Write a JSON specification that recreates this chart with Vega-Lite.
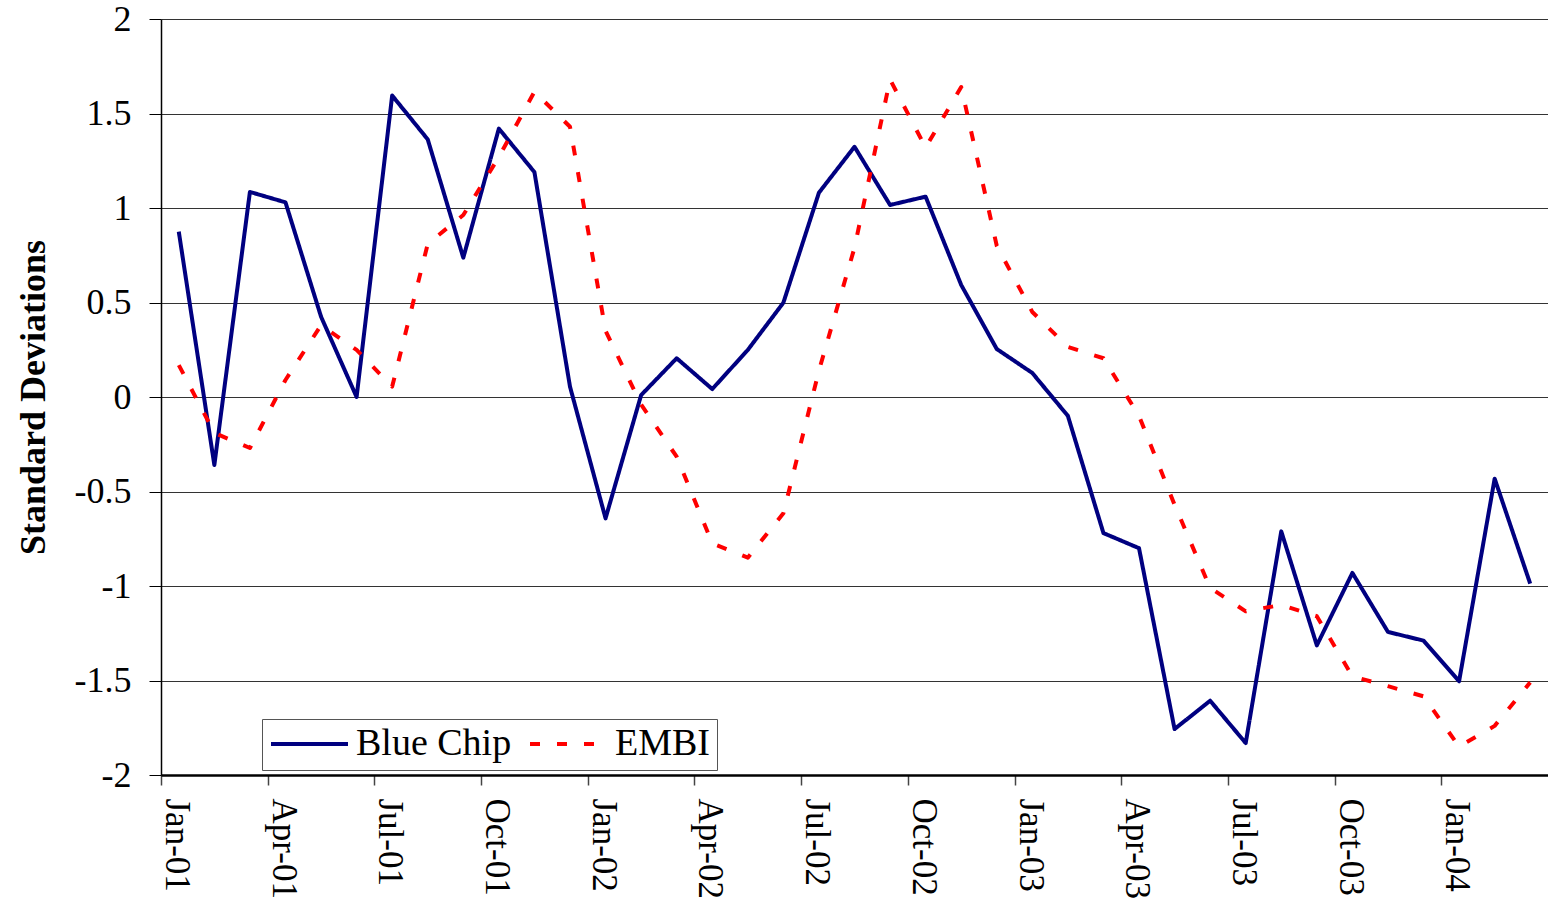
{
  "$schema": "https://vega.github.io/schema/vega-lite/v6.json",
  "width": 1387,
  "height": 756,
  "autosize": {"type": "none"},
  "padding": {"left": 161, "top": 19, "right": 0, "bottom": 135},
  "background": "white",
  "config": {"view": {"stroke": null}, "font": "Liberation Serif"},
  "data": {"values": [
    {"month": "Jan-01", "series": "Blue Chip", "value": 0.875},
    {"month": "Feb-01", "series": "Blue Chip", "value": -0.36},
    {"month": "Mar-01", "series": "Blue Chip", "value": 1.085},
    {"month": "Apr-01", "series": "Blue Chip", "value": 1.03},
    {"month": "May-01", "series": "Blue Chip", "value": 0.425},
    {"month": "Jun-01", "series": "Blue Chip", "value": 0.0},
    {"month": "Jul-01", "series": "Blue Chip", "value": 1.595},
    {"month": "Aug-01", "series": "Blue Chip", "value": 1.363},
    {"month": "Sep-01", "series": "Blue Chip", "value": 0.737},
    {"month": "Oct-01", "series": "Blue Chip", "value": 1.42},
    {"month": "Nov-01", "series": "Blue Chip", "value": 1.19},
    {"month": "Dec-01", "series": "Blue Chip", "value": 0.055},
    {"month": "Jan-02", "series": "Blue Chip", "value": -0.642},
    {"month": "Feb-02", "series": "Blue Chip", "value": 0.01},
    {"month": "Mar-02", "series": "Blue Chip", "value": 0.205},
    {"month": "Apr-02", "series": "Blue Chip", "value": 0.042},
    {"month": "May-02", "series": "Blue Chip", "value": 0.249},
    {"month": "Jun-02", "series": "Blue Chip", "value": 0.499},
    {"month": "Jul-02", "series": "Blue Chip", "value": 1.081},
    {"month": "Aug-02", "series": "Blue Chip", "value": 1.324},
    {"month": "Sep-02", "series": "Blue Chip", "value": 1.016},
    {"month": "Oct-02", "series": "Blue Chip", "value": 1.06},
    {"month": "Nov-02", "series": "Blue Chip", "value": 0.593},
    {"month": "Dec-02", "series": "Blue Chip", "value": 0.254},
    {"month": "Jan-03", "series": "Blue Chip", "value": 0.127},
    {"month": "Feb-03", "series": "Blue Chip", "value": -0.1},
    {"month": "Mar-03", "series": "Blue Chip", "value": -0.72},
    {"month": "Apr-03", "series": "Blue Chip", "value": -0.8},
    {"month": "May-03", "series": "Blue Chip", "value": -1.757},
    {"month": "Jun-03", "series": "Blue Chip", "value": -1.607},
    {"month": "Jul-03", "series": "Blue Chip", "value": -1.831},
    {"month": "Aug-03", "series": "Blue Chip", "value": -0.711},
    {"month": "Sep-03", "series": "Blue Chip", "value": -1.314},
    {"month": "Oct-03", "series": "Blue Chip", "value": -0.931},
    {"month": "Nov-03", "series": "Blue Chip", "value": -1.243},
    {"month": "Dec-03", "series": "Blue Chip", "value": -1.289},
    {"month": "Jan-04", "series": "Blue Chip", "value": -1.504},
    {"month": "Feb-04", "series": "Blue Chip", "value": -0.432},
    {"month": "Mar-04", "series": "Blue Chip", "value": -0.988},
    {"month": "Jan-01", "series": "EMBI", "value": 0.169},
    {"month": "Feb-01", "series": "EMBI", "value": -0.19},
    {"month": "Mar-01", "series": "EMBI", "value": -0.27},
    {"month": "Apr-01", "series": "EMBI", "value": 0.09},
    {"month": "May-01", "series": "EMBI", "value": 0.38},
    {"month": "Jun-01", "series": "EMBI", "value": 0.249},
    {"month": "Jul-01", "series": "EMBI", "value": 0.055},
    {"month": "Aug-01", "series": "EMBI", "value": 0.81},
    {"month": "Sep-01", "series": "EMBI", "value": 0.963},
    {"month": "Oct-01", "series": "EMBI", "value": 1.27},
    {"month": "Nov-01", "series": "EMBI", "value": 1.615},
    {"month": "Dec-01", "series": "EMBI", "value": 1.43},
    {"month": "Jan-02", "series": "EMBI", "value": 0.35},
    {"month": "Feb-02", "series": "EMBI", "value": -0.04},
    {"month": "Mar-02", "series": "EMBI", "value": -0.316},
    {"month": "Apr-02", "series": "EMBI", "value": -0.774},
    {"month": "May-02", "series": "EMBI", "value": -0.85},
    {"month": "Jun-02", "series": "EMBI", "value": -0.615},
    {"month": "Jul-02", "series": "EMBI", "value": 0.14},
    {"month": "Aug-02", "series": "EMBI", "value": 0.79},
    {"month": "Sep-02", "series": "EMBI", "value": 1.68},
    {"month": "Oct-02", "series": "EMBI", "value": 1.32},
    {"month": "Nov-02", "series": "EMBI", "value": 1.64},
    {"month": "Dec-02", "series": "EMBI", "value": 0.8},
    {"month": "Jan-03", "series": "EMBI", "value": 0.45},
    {"month": "Feb-03", "series": "EMBI", "value": 0.265},
    {"month": "Mar-03", "series": "EMBI", "value": 0.205},
    {"month": "Apr-03", "series": "EMBI", "value": -0.1},
    {"month": "May-03", "series": "EMBI", "value": -0.57},
    {"month": "Jun-03", "series": "EMBI", "value": -1.01},
    {"month": "Jul-03", "series": "EMBI", "value": -1.134},
    {"month": "Aug-03", "series": "EMBI", "value": -1.1},
    {"month": "Sep-03", "series": "EMBI", "value": -1.16},
    {"month": "Oct-03", "series": "EMBI", "value": -1.478},
    {"month": "Nov-03", "series": "EMBI", "value": -1.53},
    {"month": "Dec-03", "series": "EMBI", "value": -1.584},
    {"month": "Jan-04", "series": "EMBI", "value": -1.85},
    {"month": "Feb-04", "series": "EMBI", "value": -1.74},
    {"month": "Mar-04", "series": "EMBI", "value": -1.51}
  ]},
  "mark": {"type": "line", "strokeWidth": 4, "strokeJoin": "round", "strokeCap": "butt"},
  "encoding": {
    "x": {
      "field": "month", "type": "ordinal", "sort": null,
      "scale": {"type": "point", "padding": 0.5},
      "axis": {
        "title": null,
        "values": ["Jan-01", "Apr-01", "Jul-01", "Oct-01", "Jan-02", "Apr-02", "Jul-02", "Oct-02", "Jan-03", "Apr-03", "Jul-03", "Oct-03", "Jan-04"],
        "labelAngle": 90, "labelAlign": "left", "labelBaseline": "middle",
        "labelFont": "Liberation Serif", "labelFontSize": 35, "labelColor": "black",
        "tickOffset": -17.78, "labelOffset": 15.5,
        "tickSize": 10, "tickColor": "#444", "tickWidth": 1.5,
        "domainColor": "black", "domainWidth": 2.5,
        "labelPadding": 13, "grid": false
      }
    },
    "y": {
      "field": "value", "type": "quantitative",
      "scale": {"domain": [-2, 2], "nice": false, "zero": false},
      "axis": {
        "title": "Standard Deviations",
        "titleFont": "Liberation Serif", "titleFontSize": 36, "titleFontWeight": "bold", "titleColor": "black",
        "titleX": -117, "titleY": 378, "titleAngle": -90, "titleBaseline": "alphabetic", "titleAlign": "center",
        "values": [-2, -1.5, -1, -0.5, 0, 0.5, 1, 1.5, 2],
        "labelExpr": "'' + datum.value",
        "labelFont": "Liberation Serif", "labelFontSize": 36, "labelColor": "black",
        "tickSize": 12, "tickColor": "black", "tickWidth": 1,
        "domainColor": "black", "domainWidth": 1.5,
        "grid": true, "gridColor": "#333", "gridWidth": 1,
        "labelPadding": 18
      }
    },
    "color": {
      "field": "series", "type": "nominal",
      "scale": {"domain": ["Blue Chip", "EMBI"], "range": ["#000080", "#FF0000"]},
      "legend": {
        "title": null, "orient": "none", "legendX": 101, "legendY": 700, "direction": "horizontal",
        "symbolType": "stroke", "symbolSize": 5929, "symbolStrokeWidth": 4, "clipHeight": 36,
        "labelFont": "Liberation Serif", "labelFontSize": 38, "labelColor": "black", "labelLimit": 0,
        "labelOffset": 6, "columnPadding": 16, "padding": 7,
        "strokeColor": "#555", "fillColor": "white"
      }
    },
    "strokeDash": {
      "field": "series", "type": "nominal",
      "scale": {"domain": ["Blue Chip", "EMBI"], "range": [[1, 0], [10, 17]]},
      "legend": {
        "title": null, "orient": "none", "legendX": 101, "legendY": 700, "direction": "horizontal",
        "symbolType": "stroke", "symbolSize": 5929, "symbolStrokeWidth": 4, "clipHeight": 36,
        "labelFont": "Liberation Serif", "labelFontSize": 38, "labelColor": "black", "labelLimit": 0,
        "labelOffset": 6, "columnPadding": 16, "padding": 7,
        "strokeColor": "#555", "fillColor": "white"
      }
    }
  }
}
